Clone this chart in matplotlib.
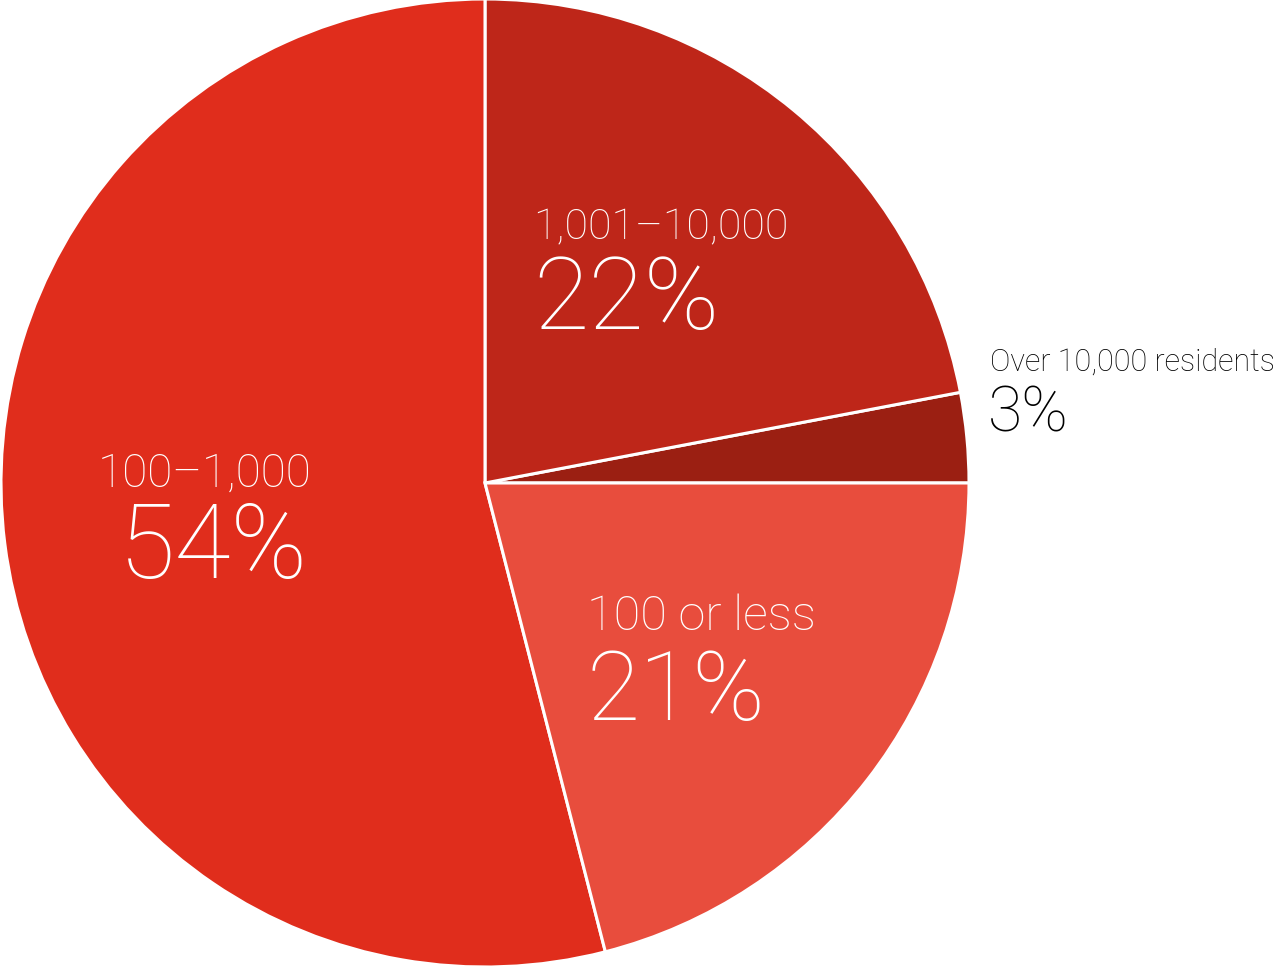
import matplotlib
matplotlib.use('Agg')
from matplotlib import pyplot as plt

labels = ['Over 10,000 residents', '1,001–10,000', '100–1,000', '100 or less']
shares = [3, 22, 54, 21]
pct_text = ['3%', '22%', '54%', '21%']
colors = ['#9b1f12', '#be2619', '#e02d1c', '#e84d3d']

W, H = 1281, 969
fig = plt.figure(figsize=(W / 100, H / 100), dpi=100)
# pie centre at (485, 483) px from top-left, radius 484 px
ax = fig.add_axes([(485 - 484) / W, (H - 483 - 484) / H, 968 / W, 968 / H])
ax.pie(shares, colors=colors, startangle=0, counterclock=True, radius=1,
       wedgeprops=dict(edgecolor='white', linewidth=2.2))
ax.set_xlim(-1, 1)
ax.set_ylim(-1, 1)
ax.set_aspect('equal')
ax.axis('off')

font = 'Roboto'


def put(x, y, s, size, color, ha='left'):
    fig.text(x / W, 1 - y / H, s, fontsize=size, color=color, ha=ha,
             va='baseline', family=font, fontweight='light')


# label + percent for each slice (pixel anchors, baseline)
put(990, 371, labels[0], 22, 'black')
put(988, 432, pct_text[0], 45, 'black')
put(533, 239, labels[1], 31, 'white')
put(533, 329, pct_text[1], 73, 'white')
put(205, 487, labels[2], 33, 'white', ha='center')
put(213, 578, pct_text[2], 74, 'white', ha='center')
put(587, 630, labels[3], 35, 'white')
put(587, 720, pct_text[3], 70, 'white')

fig.savefig('out.png', dpi=100)
